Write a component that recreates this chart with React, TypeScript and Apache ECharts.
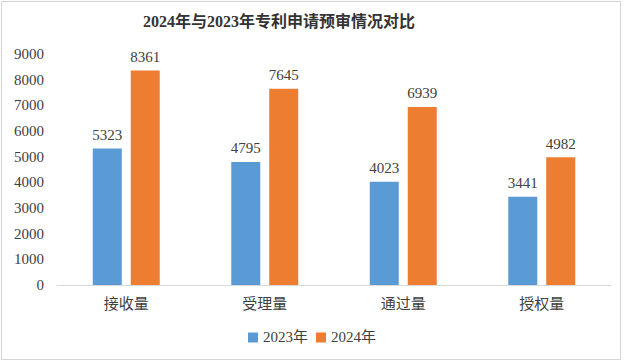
import React, { useEffect, useRef } from "react";
import * as echarts from "echarts";

const categories = ["接收量", "受理量", "通过量", "授权量"];
const values2023 = [5323, 4795, 4023, 3441];
const values2024 = [8361, 7645, 6939, 4982];
const seriesNames = ["2023年", "2024年"];

const FONT = "'Liberation Serif', 'Times New Roman', 'Noto Sans CJK SC', serif";

export default function App() {
  const ref = useRef<HTMLDivElement>(null);
  useEffect(() => {
    if (!ref.current) return;
    const chart = echarts.init(ref.current, undefined, { renderer: "svg" });
    chart.setOption({
      animation: false,
      backgroundColor: "#ffffff",
      textStyle: { fontFamily: FONT },
      title: {
        text: "2024年与2023年专利申请预审情况对比",
        left: 138,
        top: 8,
        textStyle: { fontFamily: FONT, fontSize: 16, fontWeight: "bold", color: "#333333" },
      },
      legend: {
        bottom: 14,
        left: "center",
        itemWidth: 10,
        itemHeight: 10,
        itemGap: 8,
        icon: "rect",
        textStyle: { fontFamily: FONT, fontSize: 15, color: "#404040" },
        data: seriesNames,
      },
      grid: { left: 57, right: 13, top: 54, bottom: 79, containLabel: false },
      xAxis: {
        type: "category",
        data: categories,
        axisLine: { lineStyle: { color: "#d9d9d9" } },
        axisTick: { show: false },
        axisLabel: { fontFamily: FONT, fontSize: 15, color: "#404040", margin: 11 },
      },
      yAxis: {
        type: "value",
        min: 0,
        max: 9000,
        interval: 1000,
        splitLine: { show: false },
        axisLine: { show: false },
        axisTick: { show: false },
        axisLabel: {
          fontFamily: FONT,
          fontSize: 15,
          color: "#404040",
          margin: 13,
          formatter: (v: number) => String(v),
        },
      },
      series: [
        {
          name: seriesNames[0],
          type: "bar",
          data: values2023,
          barWidth: 29,
          barGap: "31%",
          itemStyle: { color: "#5b9bd5" },
          label: { show: true, position: "top", distance: 6, fontFamily: FONT, fontSize: 15, color: "#404040" },
        },
        {
          name: seriesNames[1],
          type: "bar",
          data: values2024,
          barWidth: 29,
          itemStyle: { color: "#ed7d31" },
          label: { show: true, position: "top", distance: 6, fontFamily: FONT, fontSize: 15, color: "#404040" },
        },
      ],
      graphic: [
        {
          type: "rect",
          shape: { x: 1.5, y: 1.5, width: 619, height: 358 },
          style: { fill: "none", stroke: "#d4d4d4", lineWidth: 1 },
          silent: true,
        },
      ],
    });
    return () => chart.dispose();
  }, []);
  return (
    <div
      ref={ref}
      style={{ position: "fixed", left: 0, top: 0, width: 624, height: 364 }}
    />
  );
}
